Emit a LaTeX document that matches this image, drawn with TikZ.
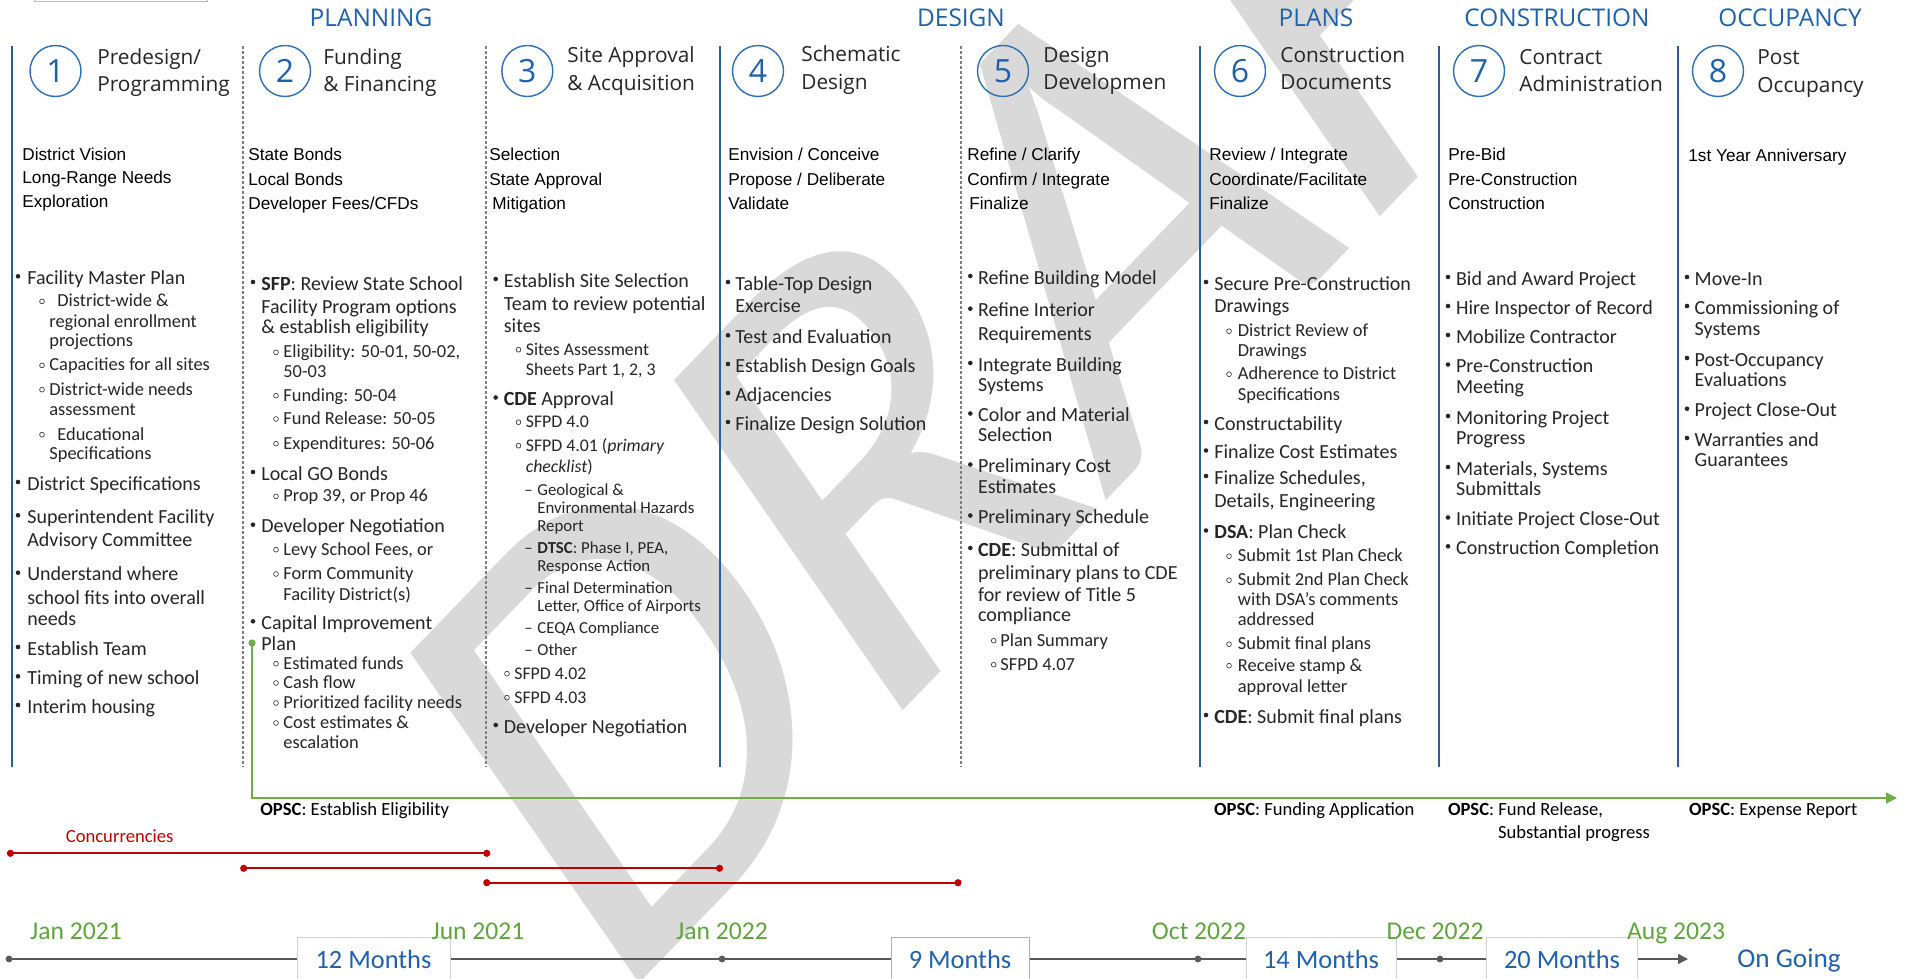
\documentclass[tikz,border=0pt]{standalone}
\usepackage{fontspec}
\setmainfont{Carlito}
\newfontfamily\fHd{Open Sans}
\newfontfamily\fAr{Liberation Sans}
\usetikzlibrary{arrows.meta}
\definecolor{txt}{RGB}{38,38,38}
\definecolor{hblue}{RGB}{31,97,170}
\definecolor{cblue}{RGB}{46,110,180}
\definecolor{lblue}{RGB}{46,90,150}
\definecolor{dgray}{RGB}{128,128,128}
\definecolor{grn}{RGB}{112,173,71}
\definecolor{dgrn}{RGB}{95,165,60}
\definecolor{cred}{RGB}{192,0,0}
\definecolor{tgray}{RGB}{89,89,89}
\definecolor{wm}{RGB}{217,217,217}
\definecolor{bxg}{RGB}{210,210,210}
\newcounter{tn}
\newcommand\txl[4][tx]{\stepcounter{tn}\node[#1] (x\arabic{tn}) at (#2,#3) {#4};}
\newcommand\bul[2]{\fill[txt] (#1,#2-8) circle (1.15pt);}
\newcommand\sbul[2]{\draw[txt, line width=0.3pt] (#1,#2-5.3) circle (1.2pt);}
\tikzset{
  tx/.style={anchor=base west, inner sep=0pt, text=txt, font=\fontsize{10}{12}\selectfont},
  sb/.style={tx, font=\fontsize{9.2}{11}\selectfont},
  sbs/.style={tx, font=\fontsize{8.9}{11}\selectfont},
  ss/.style={tx, font=\fontsize{8.4}{10}\selectfont},
  kw/.style={tx, text=black, font=\fAr\fontsize{8.6}{10}\selectfont},
  ht/.style={tx, font=\fHd\fontsize{10.4}{12}\selectfont},
  num/.style={circle, draw=cblue, line width=0.7pt, minimum size=25.5pt, inner sep=0pt, text=hblue, font=\fHd\fontsize{16}{16}\selectfont},
  sec/.style={anchor=base, inner sep=0pt, text=hblue, font=\fHd\fontsize{12.2}{14}\selectfont},
  op/.style={tx, text=black, font=\fontsize{9.3}{11}\selectfont},
  dt/.style={anchor=base, inner sep=0pt, text=dgrn, font=\fontsize{12.8}{14}\selectfont},
  mo/.style={anchor=base, inner sep=0pt, text=hblue, font=\fontsize{13.2}{15}\selectfont},
  solidsep/.style={lblue, line width=1pt},
  dashsep/.style={dgray, line width=0.6pt, dash pattern=on 1.5pt off 1pt},
  mbox/.style={draw=bxg, fill=white, line width=0.5pt},
}
\begin{document}
\begin{tikzpicture}[x=0.5pt, y=-0.5pt]
\useasboundingbox (0,0) rectangle (1907,979);
\fill[white] (0,0) rectangle (1907,979);
% watermark
\node[anchor=base west, inner sep=0pt, text=wm, rotate=46, xslant=0.2,
      font=\fontsize{307}{307}\selectfont] (wmk) at (610,1014) {DRAFT};
% top-left box
\draw[bxg!70!gray, line width=0.5pt] (34,-10) rectangle (207,1.5);
% section titles
\node[sec] (s1) at (371,27) {PLANNING};
\node[sec] (s2) at (961,27) {DESIGN};
\node[sec] (s3) at (1316,27) {PLANS};
\node[sec] (s4) at (1557,27) {CONSTRUCTION};
\node[sec] (s5) at (1790,27) {OCCUPANCY};
% separators
\draw[solidsep] (12,46) -- (12,767);
\draw[dashsep] (243,46) -- (243,767);
\draw[dashsep] (486,46) -- (486,767);
\draw[solidsep] (720,46) -- (720,767);
\draw[dashsep] (961,46) -- (961,767);
\draw[solidsep] (1200,46) -- (1200,767);
\draw[solidsep] (1439,46) -- (1439,767);
\draw[solidsep] (1678,46) -- (1678,767);
% numbered circles
\node[num] (c1) at (55.5,71) {1};
\node[num] (c2) at (285,71) {2};
\node[num] (c3) at (527.3,71) {3};
\node[num] (c4) at (758,71) {4};
\node[num] (c5) at (1003,71) {5};
\node[num] (c6) at (1240,71) {6};
\node[num] (c7) at (1479,71) {7};
\node[num] (c8) at (1718,71) {8};
% header titles
\txl[ht]{97}{64.5}{Predesign/}\txl[ht]{97}{92}{Programming}
\txl[ht]{323}{64.5}{Funding}\txl[ht]{323}{92}{\& Financing}
\txl[ht]{567}{63}{Site Approval}\txl[ht]{567}{90.5}{\& Acquisition}
\txl[ht]{801}{62}{Schematic}\txl[ht]{801}{89.5}{Design}
\txl[ht]{1043}{63}{Design}\txl[ht]{1043}{90}{Developmen}
\txl[ht]{1280}{63}{Construction}\txl[ht]{1280}{90}{Documents}
\txl[ht]{1519}{65}{Contract}\txl[ht]{1519}{92}{Administration}
\txl[ht]{1757}{65}{Post}\txl[ht]{1757}{93}{Occupancy}
% keywords
\txl[kw]{22}{161}{District Vision}\txl[kw]{22}{184}{Long-Range Needs}\txl[kw]{22}{207}{Exploration}
\txl[kw]{248}{161}{State Bonds}\txl[kw]{248}{185}{Local Bonds}\txl[kw]{248}{209}{Developer Fees/CFDs}
\txl[kw]{489}{161}{Selection}\txl[kw]{489}{185}{State Approval}\txl[kw]{492}{209}{Mitigation}
\txl[kw]{728}{161}{Envision / Conceive}\txl[kw]{728}{185}{Propose / Deliberate}\txl[kw]{728}{209}{Validate}
\txl[kw]{967}{161}{Refine / Clarify}\txl[kw]{967}{185}{Confirm / Integrate}\txl[kw]{969}{209}{Finalize}
\txl[kw]{1209}{161}{Review / Integrate}\txl[kw]{1209}{185}{Coordinate/Facilitate}\txl[kw]{1209}{209}{Finalize}
\txl[kw]{1448}{161}{Pre-Bid}\txl[kw]{1448}{185}{Pre-Construction}\txl[kw]{1448}{209}{Construction}
\txl[kw]{1688}{162}{1st Year Anniversary}
% column 1
\bul{18}{284.3}\txl{27}{284.3}{Facility Master Plan}
\sbul{42}{306.7}\txl[sb]{57}{306.7}{District-wide \&}
\txl[sb]{49}{327.3}{regional enrollment}
\txl[sb]{49}{346.7}{projections}
\sbul{42}{370.7}\txl[sb]{49}{370.7}{Capacities for all sites}
\sbul{42}{395}\txl[sb]{49}{395}{District-wide needs}
\txl[sb]{49}{415}{assessment}
\sbul{42}{440}\txl[sb]{57}{440}{Educational}
\txl[sb]{49}{459.3}{Specifications}
\bul{18}{490}\txl{27}{490}{District Specifications}
\bul{18}{523.3}\txl{27}{523.3}{Superintendent Facility}
\txl{27}{546}{Advisory Committee}
\bul{18}{580.7}\txl{27}{580.7}{Understand where}
\txl{27}{604}{school fits into overall}
\txl{27}{625}{needs}
\bul{18}{655}\txl{27}{655}{Establish Team}
\bul{18}{684.3}\txl{27}{684.3}{Timing of new school}
\bul{18}{713}\txl{27}{713}{Interim housing}
% column 2
\bul{253}{290}\txl{261}{290}{\textbf{SFP}: Review State School}
\txl{261}{313}{Facility Program options}
\txl{261}{333.5}{\& establish eligibility}
\sbul{276}{357.7}\txl[sb]{283}{357.7}{Eligibility: 50-01, 50-02,}
\txl[sb]{283}{377.3}{50-03}
\sbul{276}{401}\txl[sb]{283}{401}{Funding: 50-04}
\sbul{276}{424.3}\txl[sb]{283}{424.3}{Fund Release: 50-05}
\sbul{276}{449}\txl[sb]{283}{449}{Expenditures: 50-06}
\bul{253}{480}\txl{261}{480}{Local GO Bonds}
\sbul{276}{501.7}\txl[sb]{283}{501.7}{Prop 39, or Prop 46}
\bul{253}{532.7}\txl{261}{532.7}{Developer Negotiation}
\sbul{276}{555}\txl[sb]{283}{555}{Levy School Fees, or}
\sbul{276}{579.3}\txl[sb]{283}{579.3}{Form Community}
\txl[sb]{283}{600}{Facility District(s)}
\bul{253}{629.3}\txl{261}{629.3}{Capital Improvement}
\txl{261}{650}{Plan}
\sbul{276}{669}\txl[sb]{283}{669}{Estimated funds}
\sbul{276}{688.3}\txl[sb]{283}{688.3}{Cash flow}
\sbul{276}{708.3}\txl[sb]{283}{708.3}{Prioritized facility needs}
\sbul{276}{728.3}\txl[sb]{283}{728.3}{Cost estimates \&}
\txl[sb]{283}{748.3}{escalation}
% column 3
\bul{495.7}{287}\txl{503.5}{287}{Establish Site Selection}
\txl{503.5}{310}{Team to review potential}
\txl{503.5}{332}{sites}
\sbul{518.5}{355}\txl[sbs]{525.5}{355}{Sites Assessment}
\txl[sbs]{525.5}{375}{Sheets Part 1, 2, 3}
\bul{495.7}{405.5}\txl{503.5}{405.5}{\textbf{CDE} Approval}
\sbul{518.5}{427.5}\txl[sbs]{525.5}{427.5}{SFPD 4.0}
\sbul{518.5}{451}\txl[sbs]{525.5}{451}{SFPD 4.01 (\textit{primary}}
\txl[sbs]{525.5}{472}{\textit{checklist})}
\txl[ss]{524}{495}{–}\txl[ss]{537}{495}{Geological \&}
\txl[ss]{537}{513}{Environmental Hazards}
\txl[ss]{537}{531}{Report}
\txl[ss]{524}{553}{–}\txl[ss]{537}{553}{\textbf{DTSC}: Phase I, PEA,}
\txl[ss]{537}{571}{Response Action}
\txl[ss]{524}{593}{–}\txl[ss]{537}{593}{Final Determination}
\txl[ss]{537}{611}{Letter, Office of Airports}
\txl[ss]{524}{633}{–}\txl[ss]{537}{633}{CEQA Compliance}
\txl[ss]{524}{655}{–}\txl[ss]{537}{655}{Other}
\sbul{507}{679}\txl[sbs]{514}{679}{SFPD 4.02}
\sbul{507}{703}\txl[sbs]{514}{703}{SFPD 4.03}
\bul{495.7}{733}\txl{503.5}{733}{Developer Negotiation}
% column 4
\bul{728}{290}\txl{735}{290}{Table-Top Design}
\txl{735}{312.7}{Exercise}
\bul{728}{343.3}\txl{735}{343.3}{Test and Evaluation}
\bul{728}{372}\txl{735}{372}{Establish Design Goals}
\bul{728}{401}\txl{735}{401}{Adjacencies}
\bul{728}{430}\txl{735}{430}{Finalize Design Solution}
% column 5
\bul{970.3}{284}\txl{977.7}{284}{Refine Building Model}
\bul{970.3}{316.7}\txl{977.7}{316.7}{Refine Interior}
\txl{977.7}{340.7}{Requirements}
\bul{970.3}{371}\txl{977.7}{371}{Integrate Building}
\txl{977.7}{391.5}{Systems}
\bul{970.3}{421.5}\txl{977.7}{421.5}{Color and Material}
\txl{977.7}{441.5}{Selection}
\bul{970.3}{472.5}\txl{977.7}{472.5}{Preliminary Cost}
\txl{977.7}{493}{Estimates}
\bul{970.3}{523.5}\txl{977.7}{523.5}{Preliminary Schedule}
\bul{970.3}{556}\txl{977.7}{556}{\textbf{CDE}: Submittal of}
\txl{977.7}{579.5}{preliminary plans to CDE}
\txl{977.7}{601}{for review of Title 5}
\txl{977.7}{621.5}{compliance}
\sbul{993.7}{646}\txl[sb]{1000}{646}{Plan Summary}
\sbul{993.7}{670}\txl[sb]{1000}{670}{SFPD 4.07}
% column 6
\bul{1206}{290}\txl{1214}{290}{Secure Pre-Construction}
\txl{1214}{312.5}{Drawings}
\sbul{1229}{336.5}\txl[sb]{1237.5}{336.5}{District Review of}
\txl[sb]{1237.5}{356.5}{Drawings}
\sbul{1229}{379.5}\txl[sb]{1237.5}{379.5}{Adherence to District}
\txl[sb]{1237.5}{400.5}{Specifications}
\bul{1206}{430}\txl{1214}{430}{Constructability}
\bul{1206}{458.5}\txl{1214}{458.5}{Finalize Cost Estimates}
\bul{1206}{484}\txl{1214}{484}{Finalize Schedules,}
\txl{1214}{507.5}{Details, Engineering}
\bul{1206}{538.5}\txl{1214}{538.5}{\textbf{DSA}: Plan Check}
\sbul{1229}{561.5}\txl[sb]{1237.5}{561.5}{Submit 1st Plan Check}
\sbul{1229}{585.5}\txl[sb]{1237.5}{585.5}{Submit 2nd Plan Check}
\txl[sb]{1237.5}{605.5}{with DSA’s comments}
\txl[sb]{1237.5}{625.5}{addressed}
\sbul{1229}{649.5}\txl[sb]{1237.5}{649.5}{Submit final plans}
\sbul{1229}{671}\txl[sb]{1237.5}{671}{Receive stamp \&}
\txl[sb]{1237.5}{692}{approval letter}
\bul{1206}{723}\txl{1214}{723}{\textbf{CDE}: Submit final plans}
% column 7
\bul{1448}{285}\txl{1455.7}{285}{Bid and Award Project}
\bul{1448}{314}\txl{1455.7}{314}{Hire Inspector of Record}
\bul{1448}{343}\txl{1455.7}{343}{Mobilize Contractor}
\bul{1448}{372.5}\txl{1455.7}{372.5}{Pre-Construction}
\txl{1455.7}{393.3}{Meeting}
\bul{1448}{424}\txl{1455.7}{424}{Monitoring Project}
\txl{1455.7}{444}{Progress}
\bul{1448}{475}\txl{1455.7}{475}{Materials, Systems}
\txl{1455.7}{495}{Submittals}
\bul{1448}{525.5}\txl{1455.7}{525.5}{Initiate Project Close-Out}
\bul{1448}{554.3}\txl{1455.7}{554.3}{Construction Completion}
% column 8
\bul{1687}{285}\txl{1694.3}{285}{Move-In}
\bul{1687}{314}\txl{1694.3}{314}{Commissioning of}
\txl{1694.3}{335}{Systems}
\bul{1687}{366}\txl{1694.3}{366}{Post-Occupancy}
\txl{1694.3}{386}{Evaluations}
\bul{1687}{416.7}\txl{1694.3}{416.7}{Project Close-Out}
\bul{1687}{446}\txl{1694.3}{446}{Warranties and}
\txl{1694.3}{466.7}{Guarantees}
% green OPSC line
\coordinate (g0) at (252,643);
\coordinate (g1) at (252,798);
\coordinate (g2) at (1897,798);
\draw[grn, line width=0.9pt, -{Triangle[length=5.5pt,width=5.5pt]}] (g0) -- (g1) -- (g2);
\fill[grn] (g0) circle (1.8pt);
\txl[op]{260}{815}{\textbf{OPSC}: Establish Eligibility}
\txl[op]{1213.7}{815}{\textbf{OPSC}: Funding Application}
\txl[op]{1447.6}{815}{\textbf{OPSC}: Fund Release,}
\txl[op]{1497.6}{838.5}{Substantial progress}
\txl[op]{1688.7}{815}{\textbf{OPSC}: Expense Report}
% concurrencies
\txl[op]{65.5}{842.7}{\textcolor{cred}{Concurrencies}}
\coordinate (r1a) at (10.4,853.3); \coordinate (r1b) at (486.8,853.3);
\coordinate (r2a) at (243.7,868.3); \coordinate (r2b) at (719.5,868.3);
\coordinate (r3a) at (486.8,882.7); \coordinate (r3b) at (958,882.7);
\draw[cred, line width=0.9pt] (r1a) -- (r1b);
\draw[cred, line width=0.9pt] (r2a) -- (r2b);
\draw[cred, line width=0.9pt] (r3a) -- (r3b);
\foreach \p in {r1a,r1b,r2a,r2b,r3a,r3b} \fill[cred] (\p) circle (1.8pt);
% timeline
\coordinate (tl0) at (9,959);
\coordinate (tl1) at (722,959);
\coordinate (tl2) at (1198,959);
\coordinate (tl3) at (1440,959);
\coordinate (tl4) at (1688,959);
\draw[tgray, line width=0.85pt, -{Triangle[length=5pt,width=5pt]}] (tl0) -- (tl4);
\foreach \p in {tl0,tl1,tl2,tl3} \fill[tgray] (\p) circle (1.7pt);
\draw[mbox] (297,937.7) rectangle (450,990);
\draw[mbox, draw=bxg!60!gray] (891,937) rectangle (1029,990);
\draw[mbox] (1246,937) rectangle (1396,990);
\draw[mbox] (1486,937) rectangle (1637.5,990);
\node[mo] (m1) at (373.5,968) {12 Months};
\node[mo] (m2) at (960,968) {9 Months};
\node[mo] (m3) at (1321,968) {14 Months};
\node[mo] (m4) at (1562,968) {20 Months};
\node[mo, font=\fontsize{13.6}{15}\selectfont] (m5) at (1789,967) {On Going};
\node[dt] (d1) at (76,939.5) {Jan 2021};
\node[dt] (d2) at (478,939.5) {Jun 2021};
\node[dt] (d3) at (722,939.5) {Jan 2022};
\node[dt] (d4) at (1199,939.5) {Oct 2022};
\node[dt] (d5) at (1435,939.5) {Dec 2022};
\node[dt] (d6) at (1676,939.5) {Aug 2023};
\end{tikzpicture}
\end{document}
